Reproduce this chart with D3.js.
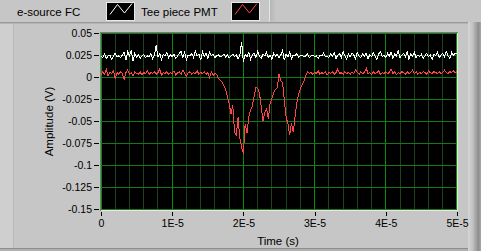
<!DOCTYPE html>
<html>
<head>
<meta charset="utf-8">
<script src="https://cdn.jsdelivr.net/npm/d3@7"></script>
<style>
html,body{margin:0;padding:0;background:#c6c6c6;}
svg{display:block;font-family:"Liberation Sans",Arial,sans-serif;}
</style>
</head>
<body>
<svg id="chart" width="481" height="251"></svg>
<script>
// ---- data ----
const seriesNames = ["e-source FC", "Tee piece PMT"];
const seriesColors = ["#ffffff", "#ff4545"];
const t0 = 0;
const dt = 2.5e-7;
const eSourceFC = [
  0.024,0.022,0.026,0.021,0.024,0.025,0.020,0.024,0.027,0.023,
  0.024,0.022,0.025,0.028,0.019,0.029,0.024,0.030,0.018,0.027,
  0.023,0.025,0.021,0.024,0.026,0.022,0.024,0.023,0.027,0.021,
  0.025,0.036,0.023,0.027,0.020,0.026,0.024,0.028,0.022,0.025,
  0.023,0.026,0.021,0.024,0.027,0.029,0.022,0.028,0.020,0.025,
  0.024,0.027,0.022,0.030,0.024,0.026,0.019,0.029,0.023,0.027,
  0.021,0.028,0.024,0.026,0.022,0.024,0.025,0.023,0.024,0.026,
  0.023,0.025,0.022,0.024,0.026,0.023,0.025,0.021,0.024,0.040,
  0.017,0.026,0.023,0.028,0.020,0.025,0.027,0.022,0.029,0.024,
  0.021,0.026,0.024,0.028,0.022,0.025,0.020,0.027,0.024,0.026,
  0.022,0.025,0.030,0.019,0.026,0.023,0.028,0.021,0.025,0.024,
  0.027,0.022,0.024,0.025,0.023,0.024,0.026,0.022,0.024,0.025,
  0.023,0.024,0.021,0.025,0.024,0.027,0.023,0.024,0.022,0.026,
  0.024,0.028,0.021,0.025,0.027,0.022,0.029,0.024,0.020,0.026,
  0.023,0.027,0.025,0.021,0.028,0.024,0.022,0.026,0.024,0.027,
  0.021,0.025,0.023,0.028,0.024,0.020,0.026,0.029,0.023,0.025,
  0.022,0.027,0.024,0.028,0.021,0.026,0.024,0.030,0.022,0.025,
  0.027,0.023,0.029,0.020,0.026,0.024,0.028,0.022,0.025,0.023,
  0.026,0.021,0.024,0.027,0.023,0.025,0.020,0.026,0.024,0.028,
  0.022,0.025,0.027,0.023,0.029,0.024,0.021,0.028,0.025,0.027,0.026
];
const teePiecePMT = [
  0.002,0.006,0.003,0.009,0.001,0.005,0.004,0.007,-0.002,0.005,
  0.003,0.006,0.004,-0.003,0.005,0.008,0.003,0.005,0.001,0.006,
  0.004,0.003,0.006,0.002,0.005,0.004,0.007,0.003,0.005,0.004,
  0.006,0.003,0.005,0.009,0.002,0.005,0.004,0.006,0.003,0.005,
  0.004,0.007,0.002,0.005,0.006,0.003,0.008,0.004,0.001,0.005,
  0.006,0.003,0.005,0.004,0.007,0.003,0.005,0.004,0.006,0.003,
  0.005,-0.001,0.006,0.002,0.004,0.003,-0.002,-0.004,-0.006,-0.010,
  -0.014,-0.022,-0.030,-0.042,-0.032,-0.062,-0.067,-0.046,-0.070,-0.080,
  -0.087,-0.053,-0.064,-0.046,-0.038,-0.033,-0.022,-0.012,-0.013,-0.018,
  -0.034,-0.050,-0.040,-0.036,-0.048,-0.030,-0.024,-0.018,-0.014,-0.012,
  0.003,-0.004,-0.006,-0.026,-0.046,-0.053,-0.066,-0.052,-0.063,-0.045,
  -0.030,-0.020,-0.013,-0.009,-0.005,0.001,0.006,0.004,0.005,0.003,
  0.005,0.004,0.007,0.003,0.005,0.004,0.006,0.002,0.005,0.004,
  0.006,0.003,0.005,0.009,0.004,0.005,0.003,0.006,0.004,0.005,
  0.003,0.006,0.004,0.008,0.005,0.003,0.006,0.004,0.005,0.010,
  0.004,0.005,0.003,0.006,0.004,0.005,0.007,0.003,0.005,0.004,
  0.006,0.004,0.005,0.009,0.004,0.006,0.003,0.005,0.004,0.006,
  0.005,0.003,0.006,0.004,0.005,0.008,0.004,0.006,0.003,0.005,
  0.004,0.006,0.005,0.003,0.007,0.005,0.004,0.006,0.005,0.004,
  0.006,0.004,0.005,0.008,0.005,0.004,0.006,0.005,0.007,0.005,0.006
];
const yTickValues = [0.05, 0.025, 0, -0.025, -0.05, -0.075, -0.1, -0.125, -0.15];
const yTickLabels = ["0.05", "0.025", "0", "-0.025", "-0.05", "-0.075", "-0.1", "-0.125", "-0.15"];
const xTickValues = [0, 1e-5, 2e-5, 3e-5, 4e-5, 5e-5];
const xTickLabels = ["0", "1E-5", "2E-5", "3E-5", "4E-5", "5E-5"];
const xMinorValues = d3.range(0, 26).map(k => k * 2e-6);
const xLabel = "Time (s)";
const yLabel = "Amplitude (V)";

// ---- drawing ----
const svg = d3.select("#chart");
const W = 481, H = 251;
const x = d3.scaleLinear().domain([0, 5e-5]).range([101, 457]);
const y = d3.scaleLinear().domain([-0.15, 0.05]).range([209, 33]);

const defs = svg.append("defs");
const gr = defs.append("linearGradient").attr("id", "rbevel").attr("x1", 0).attr("x2", 1).attr("y1", 0).attr("y2", 0);
gr.append("stop").attr("offset", "0%").attr("stop-color", "#d6d6d6");
gr.append("stop").attr("offset", "35%").attr("stop-color", "#c2c2c2");
gr.append("stop").attr("offset", "80%").attr("stop-color", "#8e8e8e");
gr.append("stop").attr("offset", "100%").attr("stop-color", "#a8a8a8");
const gl = defs.append("linearGradient").attr("id", "lshadow").attr("x1", 0).attr("x2", 1).attr("y1", 0).attr("y2", 0);
gl.append("stop").attr("offset", "0%").attr("stop-color", "#b4b4b4");
gl.append("stop").attr("offset", "100%").attr("stop-color", "#c6c6c6");

// panel background and bevels
svg.append("rect").attr("x", 0).attr("y", 0).attr("width", W).attr("height", H).attr("fill", "#c6c6c6");
svg.append("rect").attr("x", 0).attr("y", 23).attr("width", 13).attr("height", 225).attr("fill", "#cfcfcf");
svg.append("line").attr("x1", 13.5).attr("x2", 13.5).attr("y1", 23).attr("y2", 248).attr("stroke", "#b8b8b8");
svg.append("line").attr("x1", 0).attr("x2", 468).attr("y1", 22.5).attr("y2", 22.5).attr("stroke", "#9a9a9a");
svg.append("line").attr("x1", 0).attr("x2", 468).attr("y1", 23.5).attr("y2", 23.5).attr("stroke", "#b4b4b4");
svg.append("rect").attr("x", 468).attr("y", 22).attr("width", 13).attr("height", 229).attr("fill", "url(#rbevel)");
svg.append("line").attr("x1", 0).attr("x2", 468).attr("y1", 248.5).attr("y2", 248.5).attr("stroke", "#8e8e8e");
svg.append("rect").attr("x", 0).attr("y", 249).attr("width", 468).attr("height", 2).attr("fill", "#b0b0b0");
// legend right shadow
svg.append("rect").attr("x", 269).attr("y", 0).attr("width", 7).attr("height", 22).attr("fill", "url(#lshadow)");
svg.append("line").attr("x1", 269.5).attr("x2", 269.5).attr("y1", 0).attr("y2", 22).attr("stroke", "#e4e4e4");

// legend
const legendItems = [
  {name: seriesNames[0], color: seriesColors[0], tx: 17, bx: 106},
  {name: seriesNames[1], color: seriesColors[1], tx: 141, bx: 231}
];
const lg = svg.append("g");
legendItems.forEach(it => {
  lg.append("text").attr("x", it.tx).attr("y", 15.5).attr("font-size", "11.5px").attr("fill", "#000").text(it.name);
  lg.append("rect").attr("x", it.bx + 0.5).attr("y", 2.5).attr("width", 28).attr("height", 18)
    .attr("fill", "#000").attr("stroke", "#e8e8e8");
  const pts = [[4, 14.5], [11.5, 4.5], [18.5, 13], [26, 3.5]].map(p => [it.bx + p[0], p[1]]);
  lg.append("path").attr("d", d3.line()(pts)).attr("fill", "none").attr("stroke", it.color).attr("stroke-width", 1);
});

// plot area
svg.append("rect").attr("x", 100).attr("y", 32).attr("width", 358).attr("height", 179).attr("fill", "#000");
const grid = svg.append("g").attr("shape-rendering", "crispEdges");
grid.selectAll("line.minor").data(xMinorValues).join("line")
  .attr("x1", d => Math.floor(x(d)) + 0.5).attr("x2", d => Math.floor(x(d)) + 0.5)
  .attr("y1", 33).attr("y2", 210)
  .attr("stroke", d => (Math.round(d / 2e-6) % 5 === 0) ? "#0c8a0c" : "#1c441c");
grid.selectAll("line.h").data(yTickValues).join("line")
  .attr("x1", 101).attr("x2", 457)
  .attr("y1", d => Math.floor(y(d)) + 0.5).attr("y2", d => Math.floor(y(d)) + 0.5)
  .attr("stroke", "#147a14");
// sunken border
svg.append("line").attr("x1", 100.5).attr("x2", 100.5).attr("y1", 32).attr("y2", 211).attr("stroke", "#7a7a7a");
svg.append("line").attr("x1", 100).attr("x2", 458).attr("y1", 32.5).attr("y2", 32.5).attr("stroke", "#7a7a7a");
svg.append("line").attr("x1", 457.5).attr("x2", 457.5).attr("y1", 33).attr("y2", 211).attr("stroke", "#e6e6e6");
svg.append("line").attr("x1", 101).attr("x2", 458).attr("y1", 210.5).attr("y2", 210.5).attr("stroke", "#e6e6e6");

// traces
const line = d3.line().x((d, i) => x(t0 + i * dt)).y(d => y(d));
const traces = svg.append("g").attr("shape-rendering", "crispEdges");
[eSourceFC, teePiecePMT].forEach((s, k) => {
  traces.append("path").attr("d", line(s)).attr("fill", "none")
    .attr("stroke", seriesColors[k]).attr("stroke-width", 1);
});

// axes
const yAxis = d3.axisLeft(y).tickValues(yTickValues).tickFormat((d, i) => yTickLabels[i]).tickSize(5).tickPadding(2);
const gy = svg.append("g").attr("transform", "translate(99,0)").call(yAxis);
const xAxis = d3.axisBottom(x).tickValues(xTickValues).tickFormat((d, i) => xTickLabels[i]).tickSize(4).tickPadding(4);
const gx = svg.append("g").attr("transform", "translate(0,212)").call(xAxis);
[gy, gx].forEach(g => {
  g.select(".domain").remove();
  g.selectAll("line").attr("stroke", "#000").attr("shape-rendering", "crispEdges");
  g.selectAll("text").attr("fill", "#000").attr("font-size", "10.5px").attr("font-family", "\"Liberation Sans\",Arial,sans-serif");
});

// axis titles
svg.append("text").attr("x", 278).attr("y", 245).attr("text-anchor", "middle").attr("font-size", "11.5px").attr("fill", "#000").text(xLabel);
svg.append("text").attr("transform", "translate(53,121.5) rotate(-90)").attr("text-anchor", "middle")
  .attr("font-size", "11.5px").attr("fill", "#000").text(yLabel);
</script>
</body>
</html>
